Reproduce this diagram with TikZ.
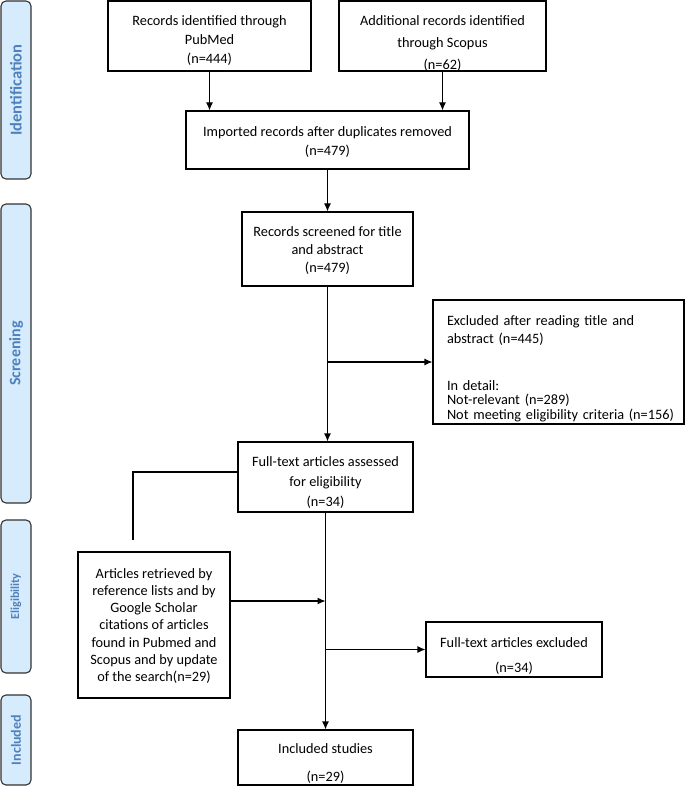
\documentclass[tikz,border=0pt]{standalone}
\usepackage{fontspec}
\setmainfont{Carlito}
\usetikzlibrary{arrows.meta,calc}
\definecolor{barfill}{HTML}{D6EBFB}
\definecolor{bartext}{HTML}{4F81BD}
\definecolor{barline}{HTML}{333333}
\begin{document}
\begin{tikzpicture}[x=1pt,y=-1pt,
  box/.style={draw, line width=1.1pt, inner sep=0pt},
  boxtext/.style={align=center, inner sep=0pt, font=\fontsize{14.3}{#1}\selectfont},
  bar/.style={draw=barline, fill=barfill, line width=1.1pt, rounded corners=5pt, rotate=90, inner sep=0pt,
              minimum height=30pt, text=bartext},
  conn/.style={line width=1.1pt},
  arr/.style={conn, -{Latex[length=8pt,width=7pt]}}]
\useasboundingbox (0,0) rectangle (685,786);

% phase bars
\node[bar, minimum width=178pt, font=\fontsize{16.5}{18}\selectfont\bfseries] (s1) at (16,90) {Identification};
\node[bar, minimum width=299pt, font=\fontsize{16}{18}\selectfont\bfseries] (s2) at (16,353.5) {Screening};
\node[bar, minimum width=153pt, font=\fontsize{12.2}{18}\selectfont\bfseries] (s3) at (16,596.5) {Eligibility};
\node[bar, minimum width=90pt, font=\fontsize{14}{18}\selectfont\bfseries] (s4) at (16,740) {Included};

% boxes
\node[box, minimum width=203pt, minimum height=70pt,
  label={[boxtext=19, yshift=-4.5pt]center:{Records identified through\\PubMed\\(n=444)}}] (b1) at (209.5,36) {};
\node[box, minimum width=207pt, minimum height=70pt,
  label={[boxtext=22, yshift=-7.5pt]center:{Additional records identified\\through Scopus\\(n=62)}}] (b2) at (442.5,36) {};
\node[box, minimum width=283pt, minimum height=58pt,
  label={[boxtext=19, yshift=-2pt]center:{Imported records after duplicates removed\\(n=479)}}] (b3) at (327.5,140) {};
\node[box, minimum width=171pt, minimum height=74pt,
  label={[boxtext=18, yshift=-2pt]center:{Records screened for title\\and abstract\\(n=479)}}] (b4) at (327.5,249) {};
\node[box, minimum width=251pt, minimum height=124pt,
  label={[boxtext=18, align=left, text width=235pt, xshift=6pt, yshift=-6.5pt]center:{Excluded after reading title and\\abstract (n=445)\\[29pt]In detail:\\[-3.5pt]Not-relevant (n=289)\\[-3.5pt]Not meeting eligibility criteria (n=156)}}] (b5) at (558.5,362) {};
\node[box, minimum width=175pt, minimum height=70pt,
  label={[boxtext=20, yshift=-6pt]center:{Full-text articles assessed\\for eligibility\\(n=34)}}] (b6) at (325.5,477) {};
\node[box, minimum width=152pt, minimum height=146pt,
  label={[boxtext=17.3, yshift=-1pt]center:{Articles retrieved by\\reference lists and by\\Google Scholar\\citations of articles\\found in Pubmed and\\Scopus and by update\\of the search(n=29)}}] (b7) at (154,625) {};
\node[box, minimum width=176pt, minimum height=55pt,
  label={[boxtext=25, yshift=-6.5pt]center:{Full-text articles excluded\\(n=34)}}] (b8) at (514,649.5) {};
\node[box, minimum width=175pt, minimum height=55pt,
  label={[boxtext=28, yshift=-6.5pt]center:{Included studies\\(n=29)}}] (b9) at (325.5,757.5) {};

% connectors
\draw[arr] (b1.south) -- (b1.south |- b3.north);
\draw[arr] (b2.south) -- (b2.south |- b3.north);
\draw[arr] (b3.south -| b4.north) -- (b4.north);
\draw[arr] (b4.south) -- (b4.south |- b6.north);
\coordinate (j1) at (b4.south |- b5.west);
\draw[arr] (j1) -- (b5.west);

\coordinate (dangle) at (133,540);
\draw[conn] ([yshift=5pt]b6.west) -| (dangle);

\draw[arr] (b6.south) -- (b6.south |- b9.north);
\coordinate (j2) at (b6.south |- 0,601);
\draw[arr] (b7.east |- j2) -- (j2);
\coordinate (j3) at (b6.south |- b8.west);
\draw[arr] (j3) -- (b8.west);
\end{tikzpicture}
\end{document}
